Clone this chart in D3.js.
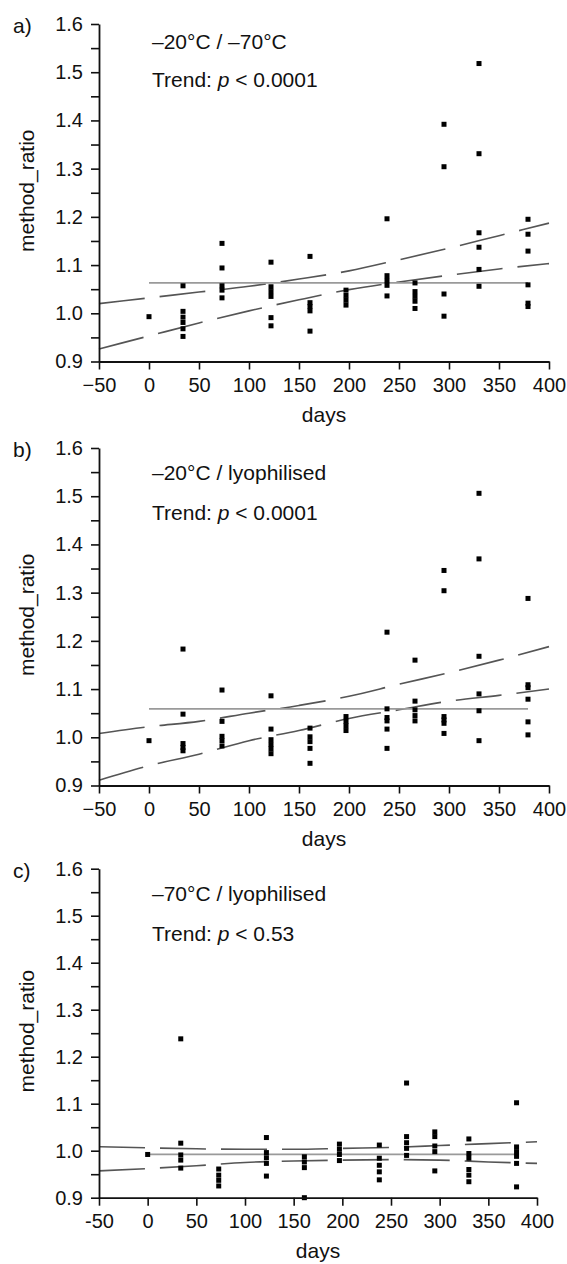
<!DOCTYPE html>
<html>
<head>
<meta charset="utf-8">
<script src="https://cdn.jsdelivr.net/npm/d3@7"></script>
<style>
  body { margin: 0; background: #fff; }
  svg text { font-family: "Liberation Sans", Arial, sans-serif; fill: #111; }
</style>
</head>
<body>
<div id="plot"></div>
<script>
// storage days (same for every panel)
var days = [0, 34, 73, 122, 161, 197, 238, 266, 295, 330, 379]

// method_ratio values per day, panel a) -20C / -70C
var ratioA = [
  [0.993],
  [1.057, 1.004, 0.992, 0.981, 0.968, 0.952],
  [1.145, 1.094, 1.057, 1.048, 1.032],
  [1.106, 1.055, 1.045, 1.035, 0.991, 0.974],
  [1.118, 1.022, 1.014, 1.005, 0.963],
  [1.048, 1.037, 1.027, 1.017],
  [1.196, 1.078, 1.068, 1.058, 1.036],
  [1.063, 1.045, 1.035, 1.025, 1.010],
  [1.392, 1.304, 1.040, 0.994],
  [1.518, 1.331, 1.167, 1.137, 1.091, 1.056],
  [1.195, 1.164, 1.129, 1.059, 1.021, 1.014]
]

// panel b) -20C / lyophilised
var ratioB = [
  [0.993],
  [1.183, 1.048, 0.987, 0.979, 0.972],
  [1.098, 1.033, 1.002, 0.993, 0.982],
  [1.086, 1.017, 0.995, 0.985, 0.976, 0.966],
  [1.019, 1.001, 0.991, 0.977, 0.946],
  [1.043, 1.033, 1.024, 1.014],
  [1.218, 1.059, 1.041, 1.034, 1.017, 0.977],
  [1.160, 1.075, 1.057, 1.045, 1.034],
  [1.346, 1.304, 1.043, 1.036, 1.029, 1.008],
  [1.506, 1.370, 1.168, 1.090, 1.055, 0.993],
  [1.288, 1.109, 1.103, 1.079, 1.032, 1.005]
]

// panel c) -70C / lyophilised
var ratioC = [
  [0.992],
  [1.238, 1.016, 0.991, 0.980, 0.963],
  [0.961, 0.948, 0.937, 0.925],
  [1.028, 0.996, 0.985, 0.973, 0.946],
  [0.987, 0.976, 0.964, 0.900],
  [1.014, 1.003, 0.992, 0.979],
  [1.012, 0.984, 0.969, 0.955, 0.938],
  [1.144, 1.030, 1.017, 1.005, 0.990],
  [1.040, 1.030, 1.010, 0.998, 0.957],
  [1.025, 0.994, 0.984, 0.960, 0.948, 0.934],
  [1.102, 1.008, 0.998, 0.988, 0.973, 0.923]
]

// trend band (dashed) read at these days
var bandDays = [-50, 0, 50, 100, 150, 200, 250, 300, 350, 400]
var upperA = [1.020, 1.032, 1.044, 1.056, 1.071, 1.088, 1.111, 1.135, 1.161, 1.187]
var lowerA = [0.926, 0.953, 0.980, 1.005, 1.028, 1.049, 1.065, 1.079, 1.092, 1.103]
var upperB = [1.008, 1.022, 1.033, 1.050, 1.066, 1.085, 1.110, 1.134, 1.160, 1.188]
var lowerB = [0.911, 0.941, 0.965, 0.993, 1.014, 1.039, 1.057, 1.075, 1.087, 1.100]
var upperC = [1.0085, 1.006, 1.004, 1.003, 1.003, 1.005, 1.007, 1.011, 1.015, 1.019]
var lowerC = [0.957, 0.962, 0.968, 0.975, 0.978, 0.980, 0.981, 0.980, 0.976, 0.973]

// mean ratio (solid grey line), drawn over the sampled days
var meanDays = [0, 379]
var meanA = 1.063, meanB = 1.059, meanC = 0.992

var titles = ["\u201320\u00b0C / \u201370\u00b0C", "\u201320\u00b0C / lyophilised", "\u201370\u00b0C / lyophilised"]
var pValues = ["0.0001", "0.0001", "0.53"]
var panelLabels = ["a)", "b)", "c)"]

var xTicks = [-50, 0, 50, 100, 150, 200, 250, 300, 350, 400]
var yTicks = [0.9, 1.0, 1.1, 1.2, 1.3, 1.4, 1.5, 1.6]
var yMinor = [0.95, 1.05, 1.15, 1.25, 1.35, 1.45, 1.55]

var width = 567, height = 1264

var svg = d3.select("#plot")
  .append("svg")
  .attr("width", width)
  .attr("height", height)

var panels = [
  { values: ratioA, upper: upperA, lower: lowerA, mean: meanA,
    left: 99, right: 549, top: 24, bottom: 361.5, note: [49, 87], minus: "\u2212" },
  { values: ratioB, upper: upperB, lower: lowerB, mean: meanB,
    left: 99, right: 549, top: 448, bottom: 785.5, note: [479.5, 519.5], minus: "\u2212" },
  { values: ratioC, upper: upperC, lower: lowerC, mean: meanC,
    left: 99, right: 537, top: 868.7, bottom: 1197.7, note: [901, 940.7], minus: "-" }
]

panels.forEach(function (p, k) {
  var g = svg.append("g")

  var xScale = d3.scaleLinear()
    .domain([-50, 400])
    .range([p.left, p.right])

  var yScale = d3.scaleLinear()
    .domain([0.9, 1.6])
    .range([p.bottom, p.top])

  // trend band, dashed
  var band = d3.line()
    .x((d, i) => xScale(bandDays[i]))
    .y(d => yScale(d))
    .curve(d3.curveMonotoneX)

  ;[p.upper, p.lower].forEach(function (b) {
    g.append("path")
      .datum(b)
      .attr("d", band)
      .attr("fill", "none")
      .attr("stroke", "#555")
      .attr("stroke-width", 1.6)
      .attr("stroke-dasharray", "46,15")
  })

  // mean line
  g.append("path")
    .datum(meanDays)
    .attr("d", d3.line().x(d => xScale(d)).y(() => yScale(p.mean)))
    .attr("fill", "none")
    .attr("stroke", "#9a9a9a")
    .attr("stroke-width", 1.8)

  // points
  var pts = []
  p.values.forEach(function (vals, i) {
    vals.forEach(v => pts.push({ day: days[i], v: v }))
  })

  g.selectAll(".dot")
    .data(pts)
    .enter()
    .append("rect")
    .attr("class", "dot")
    .attr("x", d => xScale(d.day) - 2.5)
    .attr("y", d => yScale(d.v) - 2.5)
    .attr("width", 5)
    .attr("height", 5)
    .attr("fill", "#000")

  // axes
  var xAxis = g.append("g")
    .attr("transform", "translate(0," + p.bottom + ")")
    .call(d3.axisBottom(xScale)
      .tickValues(xTicks)
      .tickSize(8)
      .tickSizeOuter(0)
      .tickPadding(8)
      .tickFormat(d => d < 0 ? p.minus + Math.abs(d) : String(d)))

  var yAxis = g.append("g")
    .attr("transform", "translate(" + p.left + ",0)")
    .call(d3.axisLeft(yScale)
      .tickValues(yTicks)
      .tickSize(8)
      .tickSizeOuter(0)
      .tickPadding(8)
      .tickFormat(d3.format(".1f")))

  g.append("g")
    .attr("transform", "translate(" + p.left + ",0)")
    .call(d3.axisLeft(yScale).tickValues(yMinor).tickSize(8).tickSizeOuter(0).tickFormat(""))
    .select(".domain").remove()

  g.selectAll(".domain").attr("stroke", "#111").attr("stroke-width", 1.8)
  g.selectAll(".tick line").attr("stroke", "#111").attr("stroke-width", 1.6)
  ;[xAxis, yAxis].forEach(a => a.attr("font-size", 20).attr("font-family", null))
  g.selectAll(".tick text").attr("fill", "#111")

  // titles
  g.append("text")
    .attr("transform", "translate(33.5," + ((p.top + p.bottom) / 2 - 2) + ") rotate(-90)")
    .attr("text-anchor", "middle")
    .attr("font-size", 21)
    .text("method_ratio")

  g.append("text")
    .attr("x", (p.left + p.right) / 2)
    .attr("y", p.bottom + 60)
    .attr("text-anchor", "middle")
    .attr("font-size", 21)
    .text("days")

  g.append("text")
    .attr("x", 13)
    .attr("y", p.top + 9)
    .attr("font-size", 21)
    .text(panelLabels[k])

  g.append("text")
    .attr("x", 152)
    .attr("y", p.note[0])
    .attr("font-size", 21)
    .text(titles[k])

  var trend = g.append("text")
    .attr("x", 152)
    .attr("y", p.note[1])
    .attr("font-size", 21)
  trend.append("tspan").text("Trend: ")
  trend.append("tspan").attr("font-style", "italic").text("p")
  trend.append("tspan").text(" < " + pValues[k])
})
</script>
</body>
</html>
